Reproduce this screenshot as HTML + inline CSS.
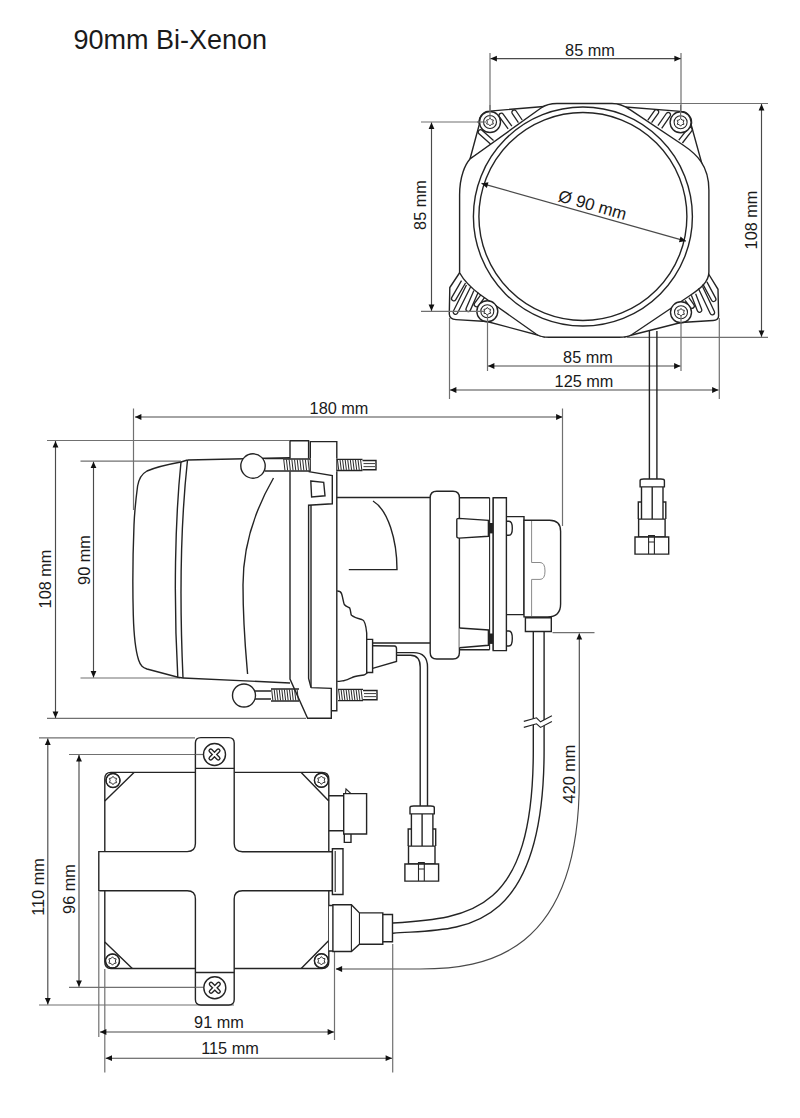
<!DOCTYPE html>
<html><head><meta charset="utf-8"><style>
html,body{margin:0;padding:0;background:#fff;}
svg{display:block;}
text{font-family:"Liberation Sans",sans-serif;fill:#1a1a1a;}
</style></head><body>
<svg width="800" height="1118" viewBox="0 0 800 1118">
<path d="M490 53 L490 110" stroke="#707070" stroke-width="1.2" fill="none"/>
<path d="M681 53 L681 111" stroke="#707070" stroke-width="1.2" fill="none"/>
<path d="M421 122 L479 122" stroke="#707070" stroke-width="1.2" fill="none"/>
<path d="M612 103.5 L768 103.5" stroke="#707070" stroke-width="1.2" fill="none"/>
<path d="M627 337.3 L768 337.3" stroke="#707070" stroke-width="1.2" fill="none"/>
<path d="M449.5 318 L449.5 399" stroke="#707070" stroke-width="1.2" fill="none"/>
<path d="M719.3 318 L719.3 399" stroke="#707070" stroke-width="1.2" fill="none"/>
<path d="M487.5 322 L487.5 371" stroke="#707070" stroke-width="1.2" fill="none"/>
<path d="M681 323 L681 371" stroke="#707070" stroke-width="1.2" fill="none"/>
<path d="M490.5 58.6 H680.8" stroke="#4a4a4a" stroke-width="1.15" fill="none"/>
<path d="M490.50 58.60 L496.90 55.70 L496.90 61.50 Z" fill="#111"/>
<path d="M680.80 58.60 L674.40 61.50 L674.40 55.70 Z" fill="#111"/>
<text x="590" y="56" font-size="16.3" text-anchor="middle">85 mm</text>
<path d="M431.5 122.5 V311" stroke="#4a4a4a" stroke-width="1.15" fill="none"/>
<path d="M431.50 122.50 L434.40 128.90 L428.60 128.90 Z" fill="#111"/>
<path d="M431.50 311.00 L428.60 304.60 L434.40 304.60 Z" fill="#111"/>
<text x="426" y="205" font-size="16.3" text-anchor="middle" transform="rotate(-90 426 205)">85 mm</text>
<path d="M761.5 104 V336.8" stroke="#4a4a4a" stroke-width="1.15" fill="none"/>
<path d="M761.50 104.00 L764.40 110.40 L758.60 110.40 Z" fill="#111"/>
<path d="M761.50 336.80 L758.60 330.40 L764.40 330.40 Z" fill="#111"/>
<text x="756.5" y="220" font-size="16.3" text-anchor="middle" transform="rotate(-90 756.5 220)">108 mm</text>
<path d="M488 366 H680.5" stroke="#4a4a4a" stroke-width="1.15" fill="none"/>
<path d="M488.00 366.00 L494.40 363.10 L494.40 368.90 Z" fill="#111"/>
<path d="M680.50 366.00 L674.10 368.90 L674.10 363.10 Z" fill="#111"/>
<text x="588" y="363" font-size="16.3" text-anchor="middle">85 mm</text>
<path d="M450 390 H718.5" stroke="#4a4a4a" stroke-width="1.15" fill="none"/>
<path d="M450.00 390.00 L456.40 387.10 L456.40 392.90 Z" fill="#111"/>
<path d="M718.50 390.00 L712.10 392.90 L712.10 387.10 Z" fill="#111"/>
<text x="584" y="387" font-size="16.3" text-anchor="middle">125 mm</text>
<path d="M649.4 331 V479.4 M656.9 331 V479.4" stroke="#242424" stroke-width="1.4" fill="none"/>
<path d="M550 106 L489.5 111.1 A10.9 10.9 0 0 0 479.3 124.5 L470 159 Z" stroke="#242424" stroke-width="1.4"  fill="#fff"/>
<path d="M616 106.3 L680.6 111.4 A10.9 10.9 0 0 1 691.2 125 L702 164 Z" stroke="#242424" stroke-width="1.4"  fill="#fff"/>
<path d="M459.6 272.75 L449.8 287.5 L449.3 314 Q449.5 319.3 456 319.6 L487 321.5 L545 337 Z" stroke="#242424" stroke-width="1.4"  fill="#fff"/>
<path d="M708.9 274.5 L718 289.3 L718.6 316 Q718.5 320.2 713 320.5 L681 322.5 L624 337 Z" stroke="#242424" stroke-width="1.4"  fill="#fff"/>
<path d="M557 103.5 L612 103.5 Q621 103.5 630 109.6 L683 145 C696 153.7 708.9 165 708.9 190 L708.9 272 C708.9 282 700 289 690 295.5 L632 334.5 Q627.5 337.3 619 337.3 L549 337.3 Q541 337.3 536 334 L480 294.5 C470 287 463 279 459.6 272.75 L459.6 195 C459.6 176 465.5 164 470 159 L541 108 Q547.4 103.5 557 103.5 Z" stroke="#242424" stroke-width="1.4"  fill="#fff"/>
<circle cx="582.9" cy="216.5" r="109.5" stroke="#242424" stroke-width="1.4" fill="none"/>
<circle cx="582.9" cy="216.5" r="104" stroke="#242424" stroke-width="1.4" fill="none"/>
<path d="M511.86 126.15 L503.16 114.15 C501.37 111.67 497.64 114.37 499.44 116.85 L508.14 128.85" stroke="#242424" stroke-width="1.3" fill="none"/>
<path d="M522.20 120.01 L516.10 111.01 C514.39 108.48 510.58 111.06 512.30 113.59 L518.40 122.59" stroke="#242424" stroke-width="1.3" fill="none"/>
<path d="M493.53 140.48 L482.03 130.28 C479.74 128.25 476.69 131.69 478.97 133.72 L490.47 143.92" stroke="#242424" stroke-width="1.3" fill="none"/>
<path d="M651.57 122.73 L658.27 113.33 C660.05 110.84 656.30 108.17 654.53 110.67 L647.83 120.07" stroke="#242424" stroke-width="1.3" fill="none"/>
<path d="M661.69 128.30 L670.09 116.10 C671.83 113.58 668.04 110.98 666.31 113.50 L657.91 125.70" stroke="#242424" stroke-width="1.3" fill="none"/>
<path d="M682.42 143.01 L691.82 130.91 C693.69 128.50 690.06 125.67 688.18 128.09 L678.78 140.19" stroke="#242424" stroke-width="1.3" fill="none"/>
<path d="M461.51 280.64 L451.81 297.34 C450.27 299.99 454.25 302.30 455.79 299.66 L465.49 282.96" stroke="#242424" stroke-width="1.3" fill="none"/>
<path d="M466.44 284.97 L453.44 310.97 C452.07 313.71 456.19 315.76 457.56 313.03 L470.56 287.03" stroke="#242424" stroke-width="1.3" fill="none"/>
<path d="M473.89 290.58 L466.19 308.28 C464.97 311.09 469.19 312.92 470.41 310.12 L478.11 292.42" stroke="#242424" stroke-width="1.3" fill="none"/>
<path d="M480.95 294.63 L474.65 303.13 C472.83 305.59 476.53 308.33 478.35 305.87 L484.65 297.37" stroke="#242424" stroke-width="1.3" fill="none"/>
<path d="M702.87 284.09 L711.57 300.29 C713.02 302.98 717.07 300.81 715.63 298.11 L706.93 281.91" stroke="#242424" stroke-width="1.3" fill="none"/>
<path d="M698.42 288.48 L710.22 313.48 C711.53 316.25 715.69 314.28 714.38 311.52 L702.58 286.52" stroke="#242424" stroke-width="1.3" fill="none"/>
<path d="M691.36 295.33 L697.36 310.83 C698.46 313.68 702.75 312.02 701.64 309.17 L695.64 293.67" stroke="#242424" stroke-width="1.3" fill="none"/>
<path d="M685.13 300.34 L690.13 307.34 C691.91 309.83 695.65 307.15 693.87 304.66 L688.87 297.66" stroke="#242424" stroke-width="1.3" fill="none"/>
<circle cx="490" cy="122" r="10.5" stroke="#242424" stroke-width="1.4"  fill="#fff"/>
<circle cx="490" cy="122" r="6.5" stroke="#242424" stroke-width="1.1" fill="none"/>
<path d="M490.00 118.10 L491.33 119.70 L493.38 120.05 L492.65 122.00 L493.38 123.95 L491.33 124.30 L490.00 125.90 L488.67 124.30 L486.62 123.95 L487.35 122.00 L486.62 120.05 L488.67 119.70Z" stroke="#333" stroke-width="1.0" fill="none" stroke-linejoin="round"/>
<circle cx="680.6" cy="122.3" r="10.5" stroke="#242424" stroke-width="1.4"  fill="#fff"/>
<circle cx="680.6" cy="122.3" r="6.5" stroke="#242424" stroke-width="1.1" fill="none"/>
<path d="M680.60 118.40 L681.93 120.00 L683.98 120.35 L683.25 122.30 L683.98 124.25 L681.93 124.60 L680.60 126.20 L679.27 124.60 L677.22 124.25 L677.95 122.30 L677.22 120.35 L679.27 120.00Z" stroke="#333" stroke-width="1.0" fill="none" stroke-linejoin="round"/>
<circle cx="487.3" cy="311.3" r="10.5" stroke="#242424" stroke-width="1.4"  fill="#fff"/>
<circle cx="487.3" cy="311.3" r="6.5" stroke="#242424" stroke-width="1.1" fill="none"/>
<path d="M487.30 307.40 L488.63 309.00 L490.68 309.35 L489.95 311.30 L490.68 313.25 L488.63 313.60 L487.30 315.20 L485.97 313.60 L483.92 313.25 L484.65 311.30 L483.92 309.35 L485.97 309.00Z" stroke="#333" stroke-width="1.0" fill="none" stroke-linejoin="round"/>
<circle cx="681" cy="312.3" r="10.5" stroke="#242424" stroke-width="1.4"  fill="#fff"/>
<circle cx="681" cy="312.3" r="6.5" stroke="#242424" stroke-width="1.1" fill="none"/>
<path d="M681.00 308.40 L682.33 310.00 L684.38 310.35 L683.65 312.30 L684.38 314.25 L682.33 314.60 L681.00 316.20 L679.67 314.60 L677.62 314.25 L678.35 312.30 L677.62 310.35 L679.67 310.00Z" stroke="#333" stroke-width="1.0" fill="none" stroke-linejoin="round"/>
<path d="M490 105 L490 119" stroke="#707070" stroke-width="1.2" fill="none"/>
<path d="M680.6 105 L680.6 119" stroke="#707070" stroke-width="1.2" fill="none"/>
<path d="M477 122 L486 122" stroke="#707070" stroke-width="1.2" fill="none"/>
<path d="M421 311.3 L484 311.3" stroke="#707070" stroke-width="1.2" fill="none"/>
<path d="M487.5 314 L487.5 323" stroke="#707070" stroke-width="1.2" fill="none"/>
<path d="M681 315 L681 324" stroke="#707070" stroke-width="1.2" fill="none"/>
<path d="M481.5 183.4 L685.9 241.1" stroke="#4a4a4a" stroke-width="1.15" fill="none"/>
<path d="M481.50 183.40 L488.45 182.35 L486.87 187.93 Z" fill="#111"/>
<path d="M685.90 241.10 L678.95 242.15 L680.53 236.57 Z" fill="#111"/>
<text x="591" y="210.5" font-size="17" text-anchor="middle" transform="rotate(15.8 591 210.5)">&#216; 90 mm</text>
<path d="M640.0999999999999 486.9 V480.5 Q640.0999999999999 479.0 643.8 479.0 H660.8 Q664.4 479.0 664.4 480.5 V486.9 Z" stroke="#242424" stroke-width="1.4"  fill="#fff"/>
<path d="M641.5 486.9 V519.1 M663.0 486.9 V519.1 M652.1999999999999 486.9 V519.1" stroke="#242424" stroke-width="1.4" fill="none"/>
<path d="M641.5 502.0 H638.3 V519.1 M663.0 502.0 H665.8 V519.1" stroke="#242424" stroke-width="1.4" fill="none"/>
<path d="M638.5999999999999 519.1 H665.0999999999999 V537.0 H638.5999999999999 Z" stroke="#242424" stroke-width="1.4" fill="none"/>
<path d="M635.0 537.0 H668.6999999999999 V554.1 H635.0 Z" stroke="#242424" stroke-width="1.4"  fill="#fff"/>
<path d="M648.5999999999999 554.1 V535.5 H654.4 V554.1 M648.5999999999999 542.0 H654.4" stroke="#242424" stroke-width="1.1" fill="none"/>
<path d="M133.5 408.5 L133.5 510" stroke="#707070" stroke-width="1.2" fill="none"/>
<path d="M135 417 H562.5" stroke="#4a4a4a" stroke-width="1.15" fill="none"/>
<path d="M135.00 417.00 L141.40 414.10 L141.40 419.90 Z" fill="#111"/>
<path d="M562.50 417.00 L556.10 419.90 L556.10 414.10 Z" fill="#111"/>
<text x="339" y="414" font-size="16.3" text-anchor="middle">180 mm</text>
<path d="M562.5 408.5 L562.5 526" stroke="#707070" stroke-width="1.2" fill="none"/>
<path d="M47 440.5 L289 440.5" stroke="#707070" stroke-width="1.2" fill="none"/>
<path d="M47 718.3 L306 718.3" stroke="#707070" stroke-width="1.2" fill="none"/>
<path d="M55.5 441 V718" stroke="#4a4a4a" stroke-width="1.15" fill="none"/>
<path d="M55.50 441.00 L58.40 447.40 L52.60 447.40 Z" fill="#111"/>
<path d="M55.50 718.00 L52.60 711.60 L58.40 711.60 Z" fill="#111"/>
<text x="51" y="579" font-size="16.3" text-anchor="middle" transform="rotate(-90 51 579)">108 mm</text>
<path d="M80.5 461.2 L181 461.2" stroke="#707070" stroke-width="1.2" fill="none"/>
<path d="M80.5 678 L180 678" stroke="#707070" stroke-width="1.2" fill="none"/>
<path d="M93.5 461.7 V677.5" stroke="#4a4a4a" stroke-width="1.15" fill="none"/>
<path d="M93.50 461.70 L96.40 468.10 L90.60 468.10 Z" fill="#111"/>
<path d="M93.50 677.50 L90.60 671.10 L96.40 671.10 Z" fill="#111"/>
<text x="89.5" y="560" font-size="16.3" text-anchor="middle" transform="rotate(-90 89.5 560)">90 mm</text>
<path d="M181 462 C170 464 155 467.5 147 471 C141.5 474 138.8 479 137.6 486 C136 498 134.6 510 134 525 C132.8 555 132.6 590 133.3 615 C134 640 136 652 138.6 660 C140.5 666 143 667.5 147 669 L178 677.3 L183 678 M181 462 L187.5 460" stroke="#242424" stroke-width="1.4" fill="none"/>
<path d="M181 462 C175 520 173.5 600 177.8 677.3" stroke="#242424" stroke-width="1.4" fill="none"/>
<path d="M187.5 460 C181 520 179.5 600 183 678" stroke="#242424" stroke-width="1.4" fill="none"/>
<path d="M187.5 460 L290 457.8" stroke="#242424" stroke-width="1.4" fill="none"/>
<path d="M183 678 L290 683" stroke="#242424" stroke-width="1.4" fill="none"/>
<path d="M273.5 478 C255 510 243 545 243 585 C243 625 245.5 650 247.6 674" stroke="#242424" stroke-width="1.4" fill="none"/>
<path d="M265 458.6 H283 M265 471 H283" stroke="#242424" stroke-width="1.4" fill="none"/>
<path d="M283 459 H310 M283 471 H310" stroke="#242424" stroke-width="1.4" fill="none"/>
<path d="M283.75 459.6 L284.95 470.4" stroke="#2a2a2a" stroke-width="1"/>
<path d="M286.45 459.6 L287.65 470.4" stroke="#2a2a2a" stroke-width="1"/>
<path d="M289.15 459.6 L290.35 470.4" stroke="#2a2a2a" stroke-width="1"/>
<path d="M291.85 459.6 L293.05 470.4" stroke="#2a2a2a" stroke-width="1"/>
<path d="M294.55 459.6 L295.75 470.4" stroke="#2a2a2a" stroke-width="1"/>
<path d="M297.25 459.6 L298.45 470.4" stroke="#2a2a2a" stroke-width="1"/>
<path d="M299.95 459.6 L301.15 470.4" stroke="#2a2a2a" stroke-width="1"/>
<path d="M302.65 459.6 L303.85 470.4" stroke="#2a2a2a" stroke-width="1"/>
<path d="M305.35 459.6 L306.55 470.4" stroke="#2a2a2a" stroke-width="1"/>
<path d="M308.05 459.6 L309.25 470.4" stroke="#2a2a2a" stroke-width="1"/>
<circle cx="253" cy="466" r="12.2" stroke="#242424" stroke-width="1.4"  fill="#fff"/>
<path d="M336.8 459.4 H362.5 M336.8 470.5 H362.5" stroke="#242424" stroke-width="1.4" fill="none"/>
<path d="M337.49 460.0 L338.69 469.9" stroke="#2a2a2a" stroke-width="1"/>
<path d="M340.06 460.0 L341.26 469.9" stroke="#2a2a2a" stroke-width="1"/>
<path d="M342.62 460.0 L343.83 469.9" stroke="#2a2a2a" stroke-width="1"/>
<path d="M345.19 460.0 L346.40 469.9" stroke="#2a2a2a" stroke-width="1"/>
<path d="M347.76 460.0 L348.97 469.9" stroke="#2a2a2a" stroke-width="1"/>
<path d="M350.33 460.0 L351.54 469.9" stroke="#2a2a2a" stroke-width="1"/>
<path d="M352.90 460.0 L354.11 469.9" stroke="#2a2a2a" stroke-width="1"/>
<path d="M355.47 460.0 L356.68 469.9" stroke="#2a2a2a" stroke-width="1"/>
<path d="M358.04 460.0 L359.25 469.9" stroke="#2a2a2a" stroke-width="1"/>
<path d="M360.61 460.0 L361.81 469.9" stroke="#2a2a2a" stroke-width="1"/>
<path d="M362.5 460.5 H376 V469.7 H362.5" stroke="#242424" stroke-width="1.4" fill="none"/>
<path d="M363.5 463.57 H375 M363.5 466.63 H375" stroke="#2a2a2a" stroke-width="0.9"/>
<path d="M254 691 H271 M254 699 H271" stroke="#242424" stroke-width="1.4" fill="none"/>
<path d="M271 689 H299 M271 701 H299" stroke="#242424" stroke-width="1.4" fill="none"/>
<path d="M271.67 689.6 L272.87 700.4" stroke="#2a2a2a" stroke-width="1"/>
<path d="M274.22 689.6 L275.42 700.4" stroke="#2a2a2a" stroke-width="1"/>
<path d="M276.76 689.6 L277.96 700.4" stroke="#2a2a2a" stroke-width="1"/>
<path d="M279.31 689.6 L280.51 700.4" stroke="#2a2a2a" stroke-width="1"/>
<path d="M281.85 689.6 L283.05 700.4" stroke="#2a2a2a" stroke-width="1"/>
<path d="M284.40 689.6 L285.60 700.4" stroke="#2a2a2a" stroke-width="1"/>
<path d="M286.95 689.6 L288.15 700.4" stroke="#2a2a2a" stroke-width="1"/>
<path d="M289.49 689.6 L290.69 700.4" stroke="#2a2a2a" stroke-width="1"/>
<path d="M292.04 689.6 L293.24 700.4" stroke="#2a2a2a" stroke-width="1"/>
<path d="M294.58 689.6 L295.78 700.4" stroke="#2a2a2a" stroke-width="1"/>
<path d="M297.13 689.6 L298.33 700.4" stroke="#2a2a2a" stroke-width="1"/>
<circle cx="244" cy="695.5" r="11.5" stroke="#242424" stroke-width="1.4"  fill="#fff"/>
<path d="M338 689.4 H363 M338 700.6 H363" stroke="#242424" stroke-width="1.4" fill="none"/>
<path d="M338.65 690.0 L339.85 700.0" stroke="#2a2a2a" stroke-width="1"/>
<path d="M341.15 690.0 L342.35 700.0" stroke="#2a2a2a" stroke-width="1"/>
<path d="M343.65 690.0 L344.85 700.0" stroke="#2a2a2a" stroke-width="1"/>
<path d="M346.15 690.0 L347.35 700.0" stroke="#2a2a2a" stroke-width="1"/>
<path d="M348.65 690.0 L349.85 700.0" stroke="#2a2a2a" stroke-width="1"/>
<path d="M351.15 690.0 L352.35 700.0" stroke="#2a2a2a" stroke-width="1"/>
<path d="M353.65 690.0 L354.85 700.0" stroke="#2a2a2a" stroke-width="1"/>
<path d="M356.15 690.0 L357.35 700.0" stroke="#2a2a2a" stroke-width="1"/>
<path d="M358.65 690.0 L359.85 700.0" stroke="#2a2a2a" stroke-width="1"/>
<path d="M361.15 690.0 L362.35 700.0" stroke="#2a2a2a" stroke-width="1"/>
<path d="M363 690.5 H377 V699.7 H363" stroke="#242424" stroke-width="1.4" fill="none"/>
<path d="M364 693.57 H376 M364 696.63 H376" stroke="#2a2a2a" stroke-width="0.9"/>
<path d="M290 458.5 V440.7 H308.6 V458.5 M290 471.5 V679 L307.6 718.2 H331.3 V688.4 L311 687.6 M308.6 471.6 L332.3 475.6 V503.8 L308.6 505.2 V678.4 L311 687.6" stroke="#242424" stroke-width="1.4" fill="none"/>
<path d="M310.3 458.5 V441.6 H336.8 V458.5 M336.8 471.5 V710.7 H331.3 M311 505 V687.6" stroke="#242424" stroke-width="1.4" fill="none"/>
<path d="M310.8 481 L323.7 482.3 L325 495.8 L311.6 497 Z" stroke="#242424" stroke-width="1.4" fill="none"/>
<path d="M310.3 458.5 V471.6 M336.8 458.5 V471.5" stroke="#242424" stroke-width="1.1" fill="none"/>
<path d="M336.8 497.5 H430.2 M373 643 H430.2" stroke="#242424" stroke-width="1.4" fill="none"/>
<path d="M373 501 C388 510 397 540 397 569.6 H348.8" stroke="#242424" stroke-width="1.4" fill="none"/>
<path d="M337.2 591 C339 591 341 592 341.6 593.75 C343 598 343.5 603 344.3 604.5 C346 607 349 607 349.7 608 C351 611 350.5 614 351.5 615.2 C355 618 360 619 362.2 619.7 C365 620.5 366 626 366.7 633 V639.4" stroke="#242424" stroke-width="1.4" fill="none"/>
<path d="M367.6 672.5 C366 674 365 675 364 675 C360 675.5 356 676 353.3 677 C350 678.5 347 680 344.3 680.5 C341 681 339 681.4 337.2 681.4" stroke="#242424" stroke-width="1.4" fill="none"/>
<path d="M366.7 639.4 H372.6 V672.5 H366.7 Z" stroke="#242424" stroke-width="1.4"  fill="#fff"/>
<path d="M372.6 645.8 L394.5 646 Q396.5 646.2 396.5 648.5 V661.5 L372.6 668.3" stroke="#242424" stroke-width="1.4" fill="none"/>
<path d="M396.5 652.6 H413.5 Q427.5 652.6 427.5 667 V806.8 M396.5 655.2 H410.5 Q420.2 655.2 420.2 667 V806.8" stroke="#242424" stroke-width="1.4" fill="none"/>
<path d="M430.2 497.8 Q430.2 491.3 436.7 491.3 H453 Q459.4 491.3 459.4 497.8 V652.5 Q459.4 659 453 659 H436.7 Q430.2 659 430.2 652.5 Z" stroke="#242424" stroke-width="1.4"  fill="#fff"/>
<path d="M459.4 497.8 H489.6 M459.4 649.7 H489.6" stroke="#242424" stroke-width="1.4" fill="none"/>
<path d="M456.8 520 Q456.6 518.4 459 518.4 L488.4 520.3 V536.3 L459 538.1 Q456.6 538.1 456.8 536 Z" stroke="#242424" stroke-width="1.4"  fill="#fff"/>
<path d="M459.4 628 L488.4 630 V645.3 L459.4 647.8" stroke="#242424" stroke-width="1.4"  fill="#fff"/>
<rect x="488.2" y="523" width="4.8" height="10.4" fill="#222"/>
<rect x="488.2" y="633.5" width="4.8" height="10.4" fill="#222"/>
<path d="M489.6 497.8 V649.7 M493.2 497.8 V650.6" stroke="#242424" stroke-width="1.1" fill="none"/>
<path d="M493.2 497.8 H506.4 V650.6 H493.2 Z" stroke="#242424" stroke-width="1.4"  fill="#fff"/>
<path d="M506.6 521.3 H509 Q512.3 521.3 512.3 528.3 Q512.3 535.3 509 535.3 H506.6" stroke="#242424" stroke-width="1.4" fill="none"/>
<path d="M506.6 631 H509 Q512.3 631 512.3 638.5 Q512.3 646 509 646 H506.6" stroke="#242424" stroke-width="1.4" fill="none"/>
<path d="M506.6 516.6 H524 V614.6 H506.6" stroke="#242424" stroke-width="1.4" fill="none"/>
<path d="M524 520.3 H549.6 Q560.6 520.3 560.6 531.3 V604 Q560.6 616.9 547.6 616.9 H524 Z" stroke="#242424" stroke-width="1.4"  fill="#fff"/>
<path d="M531.6 521 V562.5 H540 Q545 562.5 545 571 Q545 579.4 540 579.4 H531.6 V616" stroke="#8a8a8a" stroke-width="1" fill="none"/>
<path d="M525.4 617.8 H551.3 V631.5 H525.4 Z" stroke="#242424" stroke-width="1.4"  fill="#fff"/>
<path d="M533.3 631.5 V750 C533.3 912.5 471.6 918.1 393 923 M544.1 631.5 V750 C544.1 943.3 453.2 928.1 393 933.2" stroke="#242424" stroke-width="1.4" fill="none"/>
<path d="M523.8 721.4 L536.5 717.8 L540.5 721.8 L551.9 715.8 L551.9 721.4 L540.5 727.4 L536.5 723.8 L523.8 727.4 Z" fill="#fff"/>
<path d="M523.8 721.4 L536.5 717.8 L540.5 721.8 L551.9 715.8 M523.8 727.4 L536.5 723.8 L540.5 727.4 L551.9 721.4" stroke="#242424" stroke-width="1.1" fill="none"/>
<path d="M552.5 632.6 L594.5 632.6" stroke="#707070" stroke-width="1.2" fill="none"/>
<path d="M579.3 633.5 V780 C579.3 955.2 484.8 969 420 969 H336" stroke="#4a4a4a" stroke-width="1.15" fill="none"/>
<path d="M579.30 633.20 L582.20 639.60 L576.40 639.60 Z" fill="#111"/>
<path d="M335.70 969.00 L342.10 966.10 L342.10 971.90 Z" fill="#111"/>
<text x="574.5" y="774" font-size="16.3" text-anchor="middle" transform="rotate(-90 574.5 774)">420 mm</text>
<path d="M410.0 813.9 V807.5 Q410.0 806.0 413.7 806.0 H430.7 Q434.3 806.0 434.3 807.5 V813.9 Z" stroke="#242424" stroke-width="1.4"  fill="#fff"/>
<path d="M411.4 813.9 V846.1 M432.9 813.9 V846.1 M422.09999999999997 813.9 V846.1" stroke="#242424" stroke-width="1.4" fill="none"/>
<path d="M411.4 829.0 H408.2 V846.1 M432.9 829.0 H435.7 V846.1" stroke="#242424" stroke-width="1.4" fill="none"/>
<path d="M408.5 846.1 H435.0 V864.0 H408.5 Z" stroke="#242424" stroke-width="1.4" fill="none"/>
<path d="M404.9 864.0 H438.59999999999997 V881.1 H404.9 Z" stroke="#242424" stroke-width="1.4"  fill="#fff"/>
<path d="M418.5 881.1 V862.5 H424.3 V881.1 M418.5 869.0 H424.3" stroke="#242424" stroke-width="1.1" fill="none"/>
<path d="M39 737.8 L195 737.8" stroke="#707070" stroke-width="1.2" fill="none"/>
<path d="M39 1005 L234 1005" stroke="#707070" stroke-width="1.2" fill="none"/>
<path d="M47.8 738.5 V1004.5" stroke="#4a4a4a" stroke-width="1.15" fill="none"/>
<path d="M47.80 738.50 L50.70 744.90 L44.90 744.90 Z" fill="#111"/>
<path d="M47.80 1004.50 L44.90 998.10 L50.70 998.10 Z" fill="#111"/>
<text x="43.5" y="887" font-size="16.3" text-anchor="middle" transform="rotate(-90 43.5 887)">110 mm</text>
<path d="M69 754.5 L203 754.5" stroke="#707070" stroke-width="1.2" fill="none"/>
<path d="M69 987.3 L203.5 987.3" stroke="#707070" stroke-width="1.2" fill="none"/>
<path d="M79 755 V986.8" stroke="#4a4a4a" stroke-width="1.15" fill="none"/>
<path d="M79.00 755.00 L81.90 761.40 L76.10 761.40 Z" fill="#111"/>
<path d="M79.00 986.80 L76.10 980.40 L81.90 980.40 Z" fill="#111"/>
<text x="74.5" y="889" font-size="16.3" text-anchor="middle" transform="rotate(-90 74.5 889)">96 mm</text>
<path d="M98.8 892 L98.8 1037" stroke="#707070" stroke-width="1.2" fill="none"/>
<path d="M104.8 969 L104.8 1072.5" stroke="#707070" stroke-width="1.2" fill="none"/>
<path d="M334.5 951 L334.5 1040" stroke="#707070" stroke-width="1.2" fill="none"/>
<path d="M392.7 944 L392.7 1072.5" stroke="#707070" stroke-width="1.2" fill="none"/>
<path d="M100 1032 H334" stroke="#4a4a4a" stroke-width="1.15" fill="none"/>
<path d="M100.00 1032.00 L106.40 1029.10 L106.40 1034.90 Z" fill="#111"/>
<path d="M334.00 1032.00 L327.60 1034.90 L327.60 1029.10 Z" fill="#111"/>
<text x="219" y="1027.5" font-size="16.3" text-anchor="middle">91 mm</text>
<path d="M105.6 1058.2 H392" stroke="#4a4a4a" stroke-width="1.15" fill="none"/>
<path d="M105.60 1058.20 L112.00 1055.30 L112.00 1061.10 Z" fill="#111"/>
<path d="M392.00 1058.20 L385.60 1061.10 L385.60 1055.30 Z" fill="#111"/>
<text x="230" y="1053.6" font-size="16.3" text-anchor="middle">115 mm</text>
<path d="M111 772.4 H195.4 M234.2 772.4 H322 Q328.8 772.4 328.8 779 V852 M328.8 890.7 V962 Q328.8 968.5 322 968.5 H234.2 M195 968.5 H111 Q104.8 968.5 104.8 962 V891 M104.8 851.6 V779 Q104.8 772.4 111 772.4" stroke="#242424" stroke-width="1.4" fill="none"/>
<path d="M104.8 801 L134 772.4 M301.2 772.4 L328.8 801 M104.8 942 L132.3 968.5 M301.2 968.5 L328.8 940.6" stroke="#242424" stroke-width="1.4" fill="none"/>
<circle cx="113" cy="780.5" r="7" stroke="#242424" stroke-width="1.4"  fill="#fff"/>
<circle cx="113" cy="780.5" r="7" stroke="#242424" stroke-width="1.1" fill="none"/>
<path d="M113.00 776.30 L114.43 778.03 L116.64 778.40 L115.86 780.50 L116.64 782.60 L114.43 782.97 L113.00 784.70 L111.57 782.97 L109.36 782.60 L110.14 780.50 L109.36 778.40 L111.57 778.03Z" stroke="#333" stroke-width="1.0" fill="none" stroke-linejoin="round"/>
<circle cx="321.4" cy="780.2" r="7" stroke="#242424" stroke-width="1.4"  fill="#fff"/>
<circle cx="321.4" cy="780.2" r="7" stroke="#242424" stroke-width="1.1" fill="none"/>
<path d="M321.40 776.00 L322.83 777.73 L325.04 778.10 L324.26 780.20 L325.04 782.30 L322.83 782.67 L321.40 784.40 L319.97 782.67 L317.76 782.30 L318.54 780.20 L317.76 778.10 L319.97 777.73Z" stroke="#333" stroke-width="1.0" fill="none" stroke-linejoin="round"/>
<circle cx="112.5" cy="961" r="7" stroke="#242424" stroke-width="1.4"  fill="#fff"/>
<circle cx="112.5" cy="961" r="7" stroke="#242424" stroke-width="1.1" fill="none"/>
<path d="M112.50 956.80 L113.93 958.53 L116.14 958.90 L115.36 961.00 L116.14 963.10 L113.93 963.47 L112.50 965.20 L111.07 963.47 L108.86 963.10 L109.64 961.00 L108.86 958.90 L111.07 958.53Z" stroke="#333" stroke-width="1.0" fill="none" stroke-linejoin="round"/>
<circle cx="321.4" cy="960.8" r="7" stroke="#242424" stroke-width="1.4"  fill="#fff"/>
<circle cx="321.4" cy="960.8" r="7" stroke="#242424" stroke-width="1.1" fill="none"/>
<path d="M321.40 956.60 L322.83 958.33 L325.04 958.70 L324.26 960.80 L325.04 962.90 L322.83 963.27 L321.40 965.00 L319.97 963.27 L317.76 962.90 L318.54 960.80 L317.76 958.70 L319.97 958.33Z" stroke="#333" stroke-width="1.0" fill="none" stroke-linejoin="round"/>
<path d="M195.4 843.6 V743 Q195.4 737.6 200.8 737.6 H228.8 Q234.2 737.6 234.2 743 V843.6 Q234.2 851.8 242.4 851.8 H332.4 V890.7 H242.4 Q234.2 890.7 234.2 898.9 V999.6 Q234.2 1005 228.8 1005 H200.8 Q195.4 1005 195.4 999.6 V898.9 Q195.4 890.8 187.2 890.8 H98.8 V851.6 H187.2 Q195.4 851.6 195.4 843.6 Z" stroke="#242424" stroke-width="1.4"  fill="#fff"/>
<path d="M195.4 768.4 H234.2 M195.4 972.5 H234.2" stroke="#242424" stroke-width="1.4" fill="none"/>
<path d="M195.4 754.5 L203 754.5" stroke="#707070" stroke-width="1.2" fill="none"/>
<path d="M195.4 987.3 L203.5 987.3" stroke="#707070" stroke-width="1.2" fill="none"/>
<circle cx="214.5" cy="754.5" r="11" stroke="#242424" stroke-width="1.4" fill="none"/>
<path d="M210.7 750.7 L218.3 758.3 M218.3 750.7 L210.7 758.3" stroke="#242424" stroke-width="4.6" stroke-linecap="round"/>
<path d="M210.7 750.7 L218.3 758.3 M218.3 750.7 L210.7 758.3" stroke="#fff" stroke-width="1.9" stroke-linecap="round"/>
<circle cx="214.8" cy="987.8" r="11" stroke="#242424" stroke-width="1.4" fill="none"/>
<path d="M211.0 984.0 L218.60000000000002 991.5999999999999 M218.60000000000002 984.0 L211.0 991.5999999999999" stroke="#242424" stroke-width="4.6" stroke-linecap="round"/>
<path d="M211.0 984.0 L218.60000000000002 991.5999999999999 M218.60000000000002 984.0 L211.0 991.5999999999999" stroke="#fff" stroke-width="1.9" stroke-linecap="round"/>
<path d="M332.4 848.8 H343 V894.5 H332.4 Z" stroke="#242424" stroke-width="1.4"  fill="#fff"/>
<path d="M335.2 851 V892" stroke="#242424" stroke-width="1.1" fill="none"/>
<path d="M328.8 795.7 H343.7 M328.8 830.7 H343.7" stroke="#242424" stroke-width="1.4" fill="none"/>
<path d="M343.7 793.6 H366.6 V834 H343.7 Z" stroke="#242424" stroke-width="1.4"  fill="#fff"/>
<path d="M344.3 834 V842.4 H351 V834" stroke="#242424" stroke-width="1.4" fill="none"/>
<path d="M345.5 793.6 L346 789 L351 793.6" stroke="#242424" stroke-width="1.1" fill="none"/>
<path d="M328.9 905.5 H332.9 V951 H328.9 M332.9 904.8 H351.4 L359.45 912.9 H382.8 V944.3 H359.45 L351.4 951.5 H332.9 Z" stroke="#242424" stroke-width="1.4"  fill="#fff"/>
<path d="M382.8 914.5 H392.5 V941.8 H382.8" stroke="#242424" stroke-width="1.4" fill="none"/>
<path d="M351.4 904.8 V951.5 M359.45 912.9 V944.3" stroke="#242424" stroke-width="1.1" fill="none"/>
<text x="73.5" y="48.8" font-size="27" text-anchor="start">90mm Bi-Xenon</text>
</svg></body></html>
